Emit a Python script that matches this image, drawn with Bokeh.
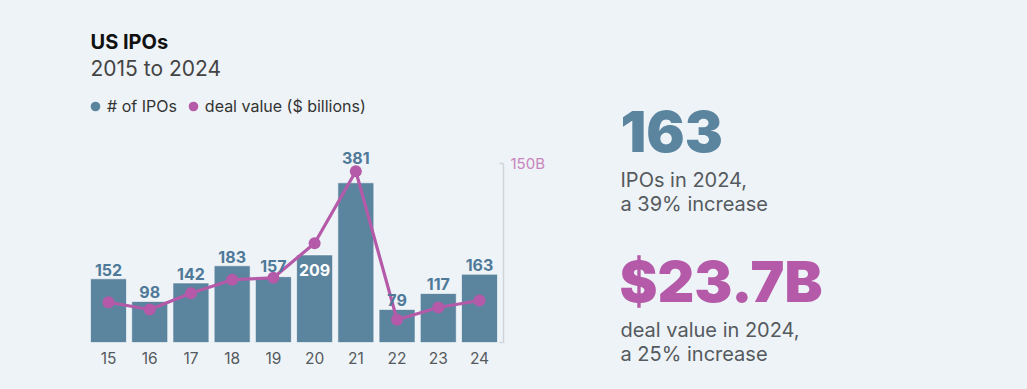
from bokeh.plotting import figure
from bokeh.layouts import row, column
from bokeh.models import (FactorRange, Range1d, LinearAxis, Label, Legend, LegendItem,
                          ColumnDataSource, FixedTicker)
from bokeh.core.properties import value
from bokeh.embed import file_html
from bokeh.resources import INLINE

# ---- data ----
years = ["15", "16", "17", "18", "19", "20", "21", "22", "23", "24"]
ipo_counts = [152, 98, 142, 183, 157, 209, 381, 79, 117, 163]
deal_values = [33.7, 27.6, 41.2, 52.5, 54.1, 83.1, 143.3, 19.0, 29.3, 35.1]
title = "US IPOs"
subtitle = "2015 to 2024"
legend_labels = ["# of IPOs", "deal value ($ billions)"]
deal_tick_labels = {0: "", 150: "150B"}
kpi_ipo = "163"
kpi_ipo_text = ["IPOs in 2024,", "a 39% increase"]
kpi_deal = "$23.7B"
kpi_deal_text = ["deal value in 2024,", "a 25% increase"]

# ---- styles ----
BG = "#eef3f7"
BAR = "#5b849f"
BAR_LABEL = "#4f7999"
MAG = "#b45aa8"
MAG_LIGHT = "#c884bd"
GREY = "#555a5e"
FONT = "Inter"
HEAVY = "'Inter Black', Inter"

LEFT_W, HEAD_H, TOTAL_W, TOTAL_H = 560, 130, 1027, 389
FL, FW = 84, 419           # chart frame left / width (shared by header & chart)
FR = LEFT_W - FL - FW


def style_fig(f):
    f.grid.visible = False
    return f


def lab(f, text, x, baseline_y, size_px, color, style="normal", font=FONT):
    # text baseline at image y = baseline_y (empirical alphabetic offset correction)
    f.add_layout(Label(x=x, y=baseline_y - 0.365 * size_px, text=text, text_font=font,
                       text_font_size="%dpx" % size_px, text_color=color,
                       text_font_style=style, text_baseline="alphabetic",
                       text_align="left"))


common = dict(output_backend="svg", toolbar_location=None, background_fill_color=BG,
              border_fill_color=BG, outline_line_color=None)

# ---- header (title, subtitle, legend) ----
head = figure(frame_width=FW, frame_height=HEAD_H, min_border_left=FL, min_border_right=FR,
              min_border_top=0, min_border_bottom=0,
              x_range=Range1d(FL, FL + FW), y_range=Range1d(HEAD_H, 0),
              x_axis_type=None, y_axis_type=None, **common)
style_fig(head)
lab(head, title, 90, 48.5, 20, "#111111", "bold")
lab(head, subtitle, 90, 76, 21, "#444444")
nan = float("nan")
r1 = head.scatter(x=[nan], y=[nan], size=11, fill_color=BAR, line_color=None)
r2 = head.scatter(x=[nan], y=[nan], size=11, fill_color=MAG, line_color=None)
leg = Legend(items=[LegendItem(label=legend_labels[0], renderers=[r1]),
                    LegendItem(label=legend_labels[1], renderers=[r2])],
             orientation="horizontal", location=(-1, 12),
             glyph_width=24, glyph_height=24, label_standoff=0, spacing=4,
             padding=0, margin=0, border_line_color=None, background_fill_alpha=0,
             label_text_font=FONT, label_text_font_size="16px", label_text_color="#333",
             label_height=24)
head.add_layout(leg, "center")

# ---- chart ----
FT, FH = 10, 202
CH = TOTAL_H - HEAD_H
p = figure(x_range=FactorRange(*years, range_padding=0.082, range_padding_units="absolute"),
           y_range=Range1d(0, 481.9),
           frame_width=FW, frame_height=FH,
           min_border_left=FL, min_border_right=FR,
           min_border_top=FT, min_border_bottom=CH - FT - FH, **common)
p.extra_y_ranges = {"deal": Range1d(0, 169.0)}
style_fig(p)
p.yaxis.visible = False

xa = p.xaxis[0]
xa.axis_line_color = None
xa.major_tick_line_color = None
xa.minor_tick_line_color = None
xa.major_label_standoff = 3
xa.major_label_text_font = FONT
xa.major_label_text_font_size = "15.5px"
xa.major_label_text_color = GREY

ra = LinearAxis(y_range_name="deal", ticker=FixedTicker(ticks=[0, 150]), bounds=(0, 150),
                major_label_overrides=deal_tick_labels)
ra.axis_line_color = "#cfd4d8"
ra.axis_line_width = 1.5
ra.major_tick_line_color = "#cfd4d8"
ra.major_tick_line_width = 1.5
ra.major_tick_in = 4
ra.major_tick_out = 0
ra.minor_tick_line_color = None
ra.major_label_standoff = 7
ra.major_label_text_font = FONT
ra.major_label_text_font_size = "15px"
ra.major_label_text_color = MAG_LIGHT
p.add_layout(ra, "right")

label_dy = {"19": -11, "20": 15, "21": -25}
src = ColumnDataSource(dict(
    x=years, top=ipo_counts, label=[str(v) for v in ipo_counts],
    dy=[label_dy.get(y, -9) for y in years],
    lc=["white" if y == "20" else BAR_LABEL for y in years],
    deal=deal_values))

p.vbar(x="x", top="top", width=0.873, source=src, fill_color=BAR,
       line_color="white", line_alpha=0.6, line_width=1)
p.line(x="x", y="deal", source=src, y_range_name="deal", line_color=MAG, line_width=3.2)
p.scatter(x="x", y="deal", source=src, y_range_name="deal", size=12,
          fill_color=MAG, line_color=None)
p.text(x="x", y="top", text="label", source=src, y_offset="dy", text_color="lc",
       text_align="center", text_baseline="middle", text_font=value(FONT),
       text_font_size="16px", text_font_style="bold")

# ---- KPI panel ----
KW = TOTAL_W - LEFT_W
kpi = figure(width=KW, height=TOTAL_H, min_border=0,
             x_range=Range1d(LEFT_W, TOTAL_W), y_range=Range1d(TOTAL_H, 0),
             x_axis_type=None, y_axis_type=None, **common)
style_fig(kpi)
lab(kpi, kpi_ipo, 620, 151.5, 57, BAR, "bold", HEAVY)
lab(kpi, kpi_ipo_text[0], 620, 186.5, 20, GREY)
lab(kpi, kpi_ipo_text[1], 620, 210.5, 20, GREY)
lab(kpi, kpi_deal, 619, 301.5, 57, MAG, "bold", HEAVY)
lab(kpi, kpi_deal_text[0], 620, 336.5, 20, GREY)
lab(kpi, kpi_deal_text[1], 620, 360.5, 20, GREY)

layout = row(column(head, p, spacing=0), kpi, spacing=0)
html = file_html(layout, INLINE)
html = html.replace("</head>", "<style>html,body{background:%s;}</style></head>" % BG, 1)
open("out.html", "w").write(html)
